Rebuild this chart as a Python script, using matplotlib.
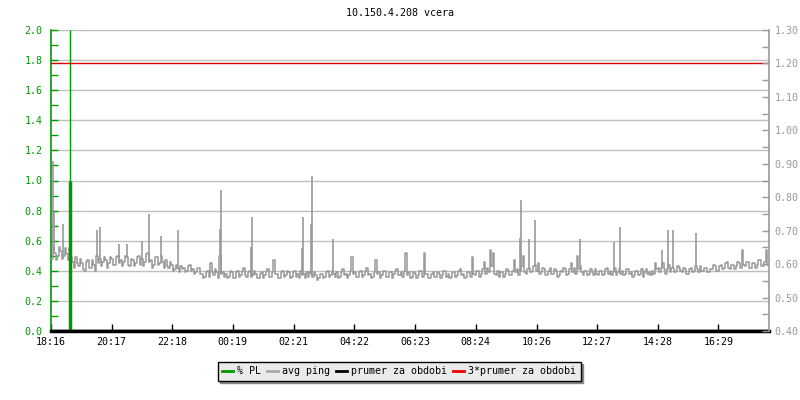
import matplotlib
matplotlib.use("Agg")
import matplotlib.pyplot as plt
from matplotlib.lines import Line2D
import numpy as np

# ---- data ----
title = "10.150.4.208 vcera"
tick_minutes = [0, 121, 242, 363, 485, 606, 727, 848, 970, 1091, 1212, 1333]
tick_labels = ["18:16", "20:17", "22:18", "00:19", "02:21", "04:22",
               "06:23", "08:24", "10:26", "12:27", "14:28", "16:29"]
step_min = 6
# first reading in each 6-minute slot
ping_base = [
    0.48, 0.52, 0.50, 0.53, 0.50, 0.51, 0.55, 0.46, 0.49, 0.43,
    0.45, 0.40, 0.47, 0.42, 0.44, 0.50, 0.48, 0.46, 0.47, 0.45,
    0.48, 0.44, 0.50, 0.47, 0.46, 0.49, 0.43, 0.47, 0.45, 0.50,
    0.48, 0.46, 0.52, 0.47, 0.44, 0.49, 0.45, 0.46, 0.47, 0.42,
    0.44, 0.41, 0.42, 0.43, 0.42, 0.40, 0.44, 0.41, 0.39, 0.42,
    0.38, 0.36, 0.40, 0.45, 0.37, 0.39, 0.50, 0.39, 0.38, 0.36,
    0.39, 0.35, 0.40, 0.37, 0.42, 0.36, 0.40, 0.37, 0.38, 0.35,
    0.39, 0.37, 0.41, 0.36, 0.47, 0.38, 0.35, 0.40, 0.37, 0.39,
    0.36, 0.40, 0.38, 0.40, 0.38, 0.39, 0.39, 0.36, 0.37, 0.35,
    0.38, 0.36, 0.40, 0.37, 0.38, 0.39, 0.36, 0.41, 0.38, 0.37,
    0.49, 0.39, 0.36, 0.40, 0.37, 0.42, 0.38, 0.36, 0.47, 0.39,
    0.37, 0.40, 0.36, 0.39, 0.38, 0.41, 0.37, 0.36, 0.52, 0.39,
    0.36, 0.38, 0.37, 0.40, 0.52, 0.38, 0.35, 0.39, 0.36, 0.38,
    0.37, 0.40, 0.38, 0.36, 0.39, 0.37, 0.41, 0.38, 0.36, 0.39,
    0.49, 0.37, 0.40, 0.38, 0.46, 0.42, 0.54, 0.52, 0.37, 0.36,
    0.39, 0.38, 0.40, 0.37, 0.47, 0.41, 0.40, 0.50, 0.38, 0.42,
    0.40, 0.44, 0.45, 0.39, 0.41, 0.37, 0.42, 0.38, 0.40, 0.37,
    0.39, 0.41, 0.38, 0.45, 0.42, 0.50, 0.43, 0.37, 0.40, 0.38,
    0.39, 0.41, 0.37, 0.40, 0.38, 0.42, 0.40, 0.39, 0.37, 0.41,
    0.40, 0.38, 0.41, 0.39, 0.37, 0.40, 0.38, 0.36, 0.41, 0.39,
    0.40, 0.45, 0.42, 0.42, 0.41, 0.41, 0.39, 0.42, 0.40, 0.42,
    0.39, 0.41, 0.38, 0.42, 0.40, 0.41, 0.43, 0.40, 0.42, 0.39,
    0.41, 0.43, 0.40, 0.44, 0.42, 0.46, 0.41, 0.44, 0.43, 0.45,
    0.54, 0.43, 0.46, 0.42, 0.45, 0.44, 0.47, 0.43, 0.54, 0.44,
]
# second reading in each 6-minute slot (3 minutes later)
ping_alt = [
    0.55, 0.47, 0.56, 0.48, 0.55, 0.47, 0.49, 0.42, 0.45, 0.48,
    0.41, 0.46, 0.42, 0.47, 0.40, 0.45, 0.43, 0.49, 0.42, 0.49,
    0.44, 0.49, 0.45, 0.43, 0.50, 0.44, 0.48, 0.43, 0.49, 0.44,
    0.43, 0.51, 0.46, 0.42, 0.49, 0.44, 0.50, 0.42, 0.43, 0.46,
    0.40, 0.44, 0.39, 0.41, 0.39, 0.43, 0.40, 0.38, 0.42, 0.38,
    0.35, 0.39, 0.36, 0.39, 0.41, 0.35, 0.38, 0.36, 0.35, 0.40,
    0.35, 0.39, 0.36, 0.40, 0.37, 0.39, 0.36, 0.40, 0.35, 0.38,
    0.35, 0.40, 0.36, 0.39, 0.38, 0.35, 0.39, 0.36, 0.40, 0.35,
    0.39, 0.36, 0.35, 0.37, 0.35, 0.36, 0.38, 0.39, 0.34, 0.38,
    0.35, 0.39, 0.36, 0.40, 0.36, 0.35, 0.39, 0.37, 0.35, 0.40,
    0.38, 0.36, 0.39, 0.36, 0.40, 0.37, 0.35, 0.39, 0.38, 0.35,
    0.40, 0.36, 0.39, 0.35, 0.40, 0.37, 0.39, 0.40, 0.37, 0.35,
    0.39, 0.35, 0.40, 0.36, 0.38, 0.35, 0.38, 0.36, 0.39, 0.35,
    0.40, 0.36, 0.35, 0.39, 0.36, 0.40, 0.37, 0.35, 0.39, 0.36,
    0.38, 0.40, 0.36, 0.41, 0.38, 0.39, 0.43, 0.38, 0.40, 0.39,
    0.36, 0.41, 0.37, 0.40, 0.39, 0.37, 0.43, 0.39, 0.41, 0.39,
    0.43, 0.40, 0.38, 0.42, 0.37, 0.40, 0.38, 0.41, 0.36, 0.40,
    0.42, 0.37, 0.41, 0.39, 0.38, 0.41, 0.39, 0.40, 0.37, 0.41,
    0.37, 0.38, 0.40, 0.37, 0.41, 0.38, 0.37, 0.42, 0.39, 0.38,
    0.37, 0.41, 0.38, 0.36, 0.40, 0.37, 0.41, 0.39, 0.38, 0.37,
    0.38, 0.41, 0.39, 0.45, 0.38, 0.44, 0.42, 0.39, 0.43, 0.40,
    0.42, 0.38, 0.41, 0.39, 0.43, 0.39, 0.40, 0.42, 0.39, 0.41,
    0.44, 0.40, 0.43, 0.41, 0.45, 0.42, 0.44, 0.41, 0.46, 0.42,
    0.44, 0.46, 0.42, 0.45, 0.42, 0.47, 0.43, 0.46, 0.44, 0.42,
]
spike_minutes = [4, 6, 24, 92, 98, 136, 152, 182, 196, 220, 254,
                 338, 340, 400, 402, 502, 504, 520, 522, 564,
                 936, 938, 954, 966, 1056, 1124, 1136,
                 1220, 1232, 1242, 1288]
spike_values = [1.13, 0.79, 0.71, 0.67, 0.69, 0.58, 0.58, 0.60, 0.78, 0.63, 0.67,
                0.68, 0.94, 0.56, 0.76, 0.55, 0.76, 0.71, 1.03, 0.61,
                0.62, 0.87, 0.61, 0.74, 0.61, 0.59, 0.69,
                0.54, 0.67, 0.67, 0.65]
pl_times = [38]
pl_values = [1.0]
prumer = 0.0          # in left-axis units (right axis 0.40)
prumer3 = 1.78        # in left-axis units (right axis ~1.20)
x_end = 1434

GREEN = "#009900"
GRAY = "#999999"
GRID = "#c0c0c0"
FONT = "DejaVu Sans Mono"
FS = 7.2

plt.rcParams["font.family"] = FONT

fig = plt.figure(figsize=(8, 4), dpi=100)
ax = fig.add_axes([51 / 800, 1 - 331 / 400, (769 - 51) / 800, (331 - 30) / 400])

n = len(ping_base)
t_all = np.empty(2 * n)
t_all[0::2] = np.arange(n) * step_min
t_all[1::2] = np.arange(n) * step_min + step_min / 2
v_all = np.empty(2 * n)
v_all[0::2] = ping_base
v_all[1::2] = ping_alt

for yv in np.arange(0.2, 2.01, 0.2):
    ax.axhline(yv, color=GRID, lw=1, zorder=1)

ax.step(t_all, v_all, where="post", color=GRAY, lw=1.1, zorder=3, label="avg ping")
half = step_min / 2
base_at_spike = [v_all[min(int(m // half), len(v_all) - 1)] for m in spike_minutes]
ax.vlines(spike_minutes, base_at_spike, spike_values, color=GRAY, lw=1.2, zorder=3)

for pt, pv in zip(pl_times, pl_values):
    ax.vlines(pt, 0, 2.0, color=GREEN, lw=1, zorder=4)
    ax.vlines(pt, 0, pv, color=GREEN, lw=2.5, zorder=4)
ax.axhline(prumer, color="black", lw=2.5, zorder=5)
ax.axhline(prumer3, color="#dd0000", lw=1, zorder=5)

ax.set_xlim(0, x_end)
ax.set_ylim(0, 2.0)
ax.set_xticks(tick_minutes)
ax.set_xticklabels(tick_labels, fontsize=FS, color="black")
ax.set_yticks(np.arange(0, 2.01, 0.2))
ax.set_yticklabels([f"{v:.1f}" for v in np.arange(0, 2.01, 0.2)], fontsize=FS, color=GREEN)
ax.set_yticks(np.arange(0, 2.01, 0.1), minor=True)
ax.tick_params(axis="y", which="both", direction="in", length=5, color=GREEN, width=1, pad=6)
ax.tick_params(axis="x", which="both", direction="in", length=5, color="black", width=1, pad=4)

for s in ["top", "right"]:
    ax.spines[s].set_visible(False)
ax.spines["left"].set_color(GREEN)
ax.spines["left"].set_linewidth(1.2)
ax.spines["bottom"].set_color("black")
ax.spines["bottom"].set_linewidth(2.5)

ax2 = ax.twinx()
ax2.set_ylim(0.40, 1.30)
ax2.set_yticks(np.arange(0.40, 1.301, 0.10))
ax2.set_yticklabels([f"{v:.2f}" for v in np.arange(0.40, 1.301, 0.10)], fontsize=FS, color=GRAY)
ax2.set_yticks(np.arange(0.40, 1.301, 0.05), minor=True)
ax2.tick_params(axis="y", which="both", direction="in", length=5, color=GRAY, width=1, pad=4)
for s in ["top", "left", "bottom"]:
    ax2.spines[s].set_visible(False)
ax2.spines["right"].set_color(GRAY)
ax2.spines["right"].set_linewidth(1.2)

fig.text(0.5, 1 - 13 / 400, title, ha="center", va="center", fontsize=FS, color="black")

handles = [Line2D([], [], color=GREEN, lw=2),
           Line2D([], [], color="#aaaaaa", lw=2),
           Line2D([], [], color="black", lw=2),
           Line2D([], [], color="#ee0000", lw=2)]
labels = ["% PL", "avg ping", "prumer za obdobi", "3*prumer za obdobi"]
leg = fig.legend(handles, labels, loc="center", bbox_to_anchor=(399 / 800, 1 - 371 / 400),
                 ncol=4, fontsize=FS, frameon=True, fancybox=False, shadow={"color": "#888888", "alpha": 1},
                 handlelength=1.1, handletextpad=0.4, columnspacing=0.6, borderpad=0.45,
                 borderaxespad=0)
leg.get_frame().set_facecolor("#ebebeb")
leg.get_frame().set_edgecolor("black")
leg.get_frame().set_linewidth(1)

fig.savefig("out.png", dpi=100)
